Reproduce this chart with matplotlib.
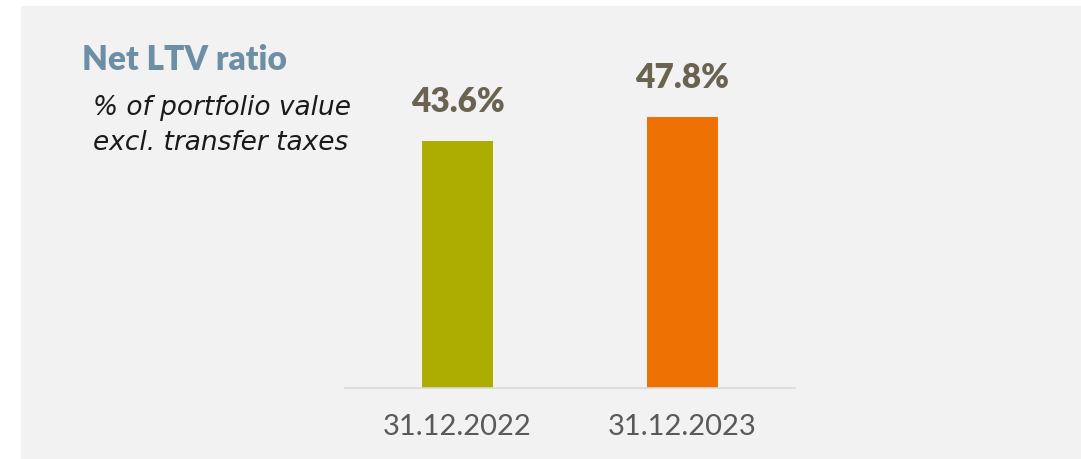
import matplotlib
matplotlib.use("Agg")
import matplotlib.pyplot as plt
from matplotlib.patches import Rectangle

categories = ["31.12.2022", "31.12.2023"]
values = [43.6, 47.8]
value_labels = ["43.6%", "47.8%"]
bar_colors = ["#adac00", "#ee7203"]
title = "Net LTV ratio"
subtitle = ["% of portfolio value", "excl. transfer taxes"]

W, H = 1081, 459
fig = plt.figure(figsize=(W / 100, H / 100), dpi=100)
fig.patch.set_facecolor("white")
fig.patches.append(Rectangle((21 / W, 0), 1 - 21 / W, (H - 6) / H,
                             transform=fig.transFigure, facecolor="#f2f2f2",
                             edgecolor="none", zorder=-5))

ax = fig.add_axes([345 / W, 71.3 / H, 450 / W, 283.3 / H])
ax.set_zorder(2)
ax.set_facecolor("none")
x = list(range(len(categories)))
ax.bar(x, values, width=0.316, color=bar_colors, zorder=2)
ax.set_xlim(-0.5, 1.5)
ax.set_ylim(0, 50)
for s in ["top", "right", "left"]:
    ax.spines[s].set_visible(False)
ax.spines["bottom"].set_color("#d9d9d9")
ax.spines["bottom"].set_linewidth(1.2)
ax.set_yticks([])
ax.set_xticks(x)
ax.set_xticklabels(categories, fontfamily="Lato", fontsize=21, color="#595959")
ax.tick_params(axis="x", length=0, pad=19)

for xi, v, lab in zip(x, values, value_labels):
    ax.annotate(lab, (xi, v), xytext=(0, 20.9), textcoords="offset points",
                ha="center", va="baseline", fontfamily="Lato", fontweight="heavy",
                fontsize=24, color="#6b6352", annotation_clip=False)

def figpx(px, py):
    return px / W, (H - py) / H

fig.text(*figpx(82, 70), title, fontfamily="Lato", fontweight="heavy",
         fontsize=24, color="#6d8fa6", ha="left", va="baseline")
fig.text(*figpx(93, 115), subtitle[0], fontfamily="DejaVu Sans", fontstyle="oblique",
         fontsize=19, color="#1a1a1a", ha="left", va="baseline")
fig.text(*figpx(93, 150), subtitle[1], fontfamily="DejaVu Sans", fontstyle="oblique",
         fontsize=19, color="#1a1a1a", ha="left", va="baseline")

fig.savefig("out.png", dpi=100, facecolor=fig.get_facecolor())
